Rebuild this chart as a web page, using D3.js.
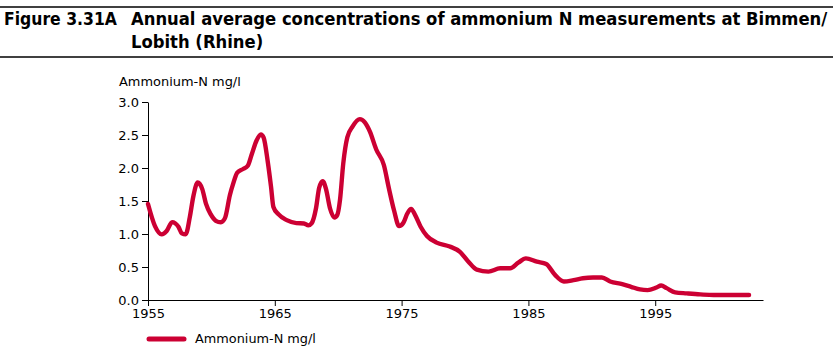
<!DOCTYPE html>
<html><head><meta charset="utf-8">
<script src="https://cdn.jsdelivr.net/npm/d3@7"></script>
<style>
html,body{margin:0;padding:0;background:#fff;}
svg{display:block;}
</style></head>
<body>
<svg id="chart" width="833" height="355"></svg>
<script>
const titleLabel = "Figure 3.31A";
const titleLines = ["Annual average concentrations of ammonium N measurements at Bimmen/", "Lobith (Rhine)"];
const yAxisTitle = "Ammonium-N mg/l";
const seriesName = "Ammonium-N mg/l";
const xTicks = [1955, 1965, 1975, 1985, 1995];
const yTicks = [0, 0.5, 1.0, 1.5, 2.0, 2.5, 3.0];
const years = [1955.0,1955.55,1956.08,1956.47,1956.9,1957.4,1957.66,1957.97,1958.3,1958.57,1958.92,1959.28,1959.57,1959.94,1960.35,1960.75,1961.07,1961.46,1961.73,1962.04,1962.5,1962.87,1963.17,1963.57,1963.9,1964.12,1964.44,1964.7,1964.89,1965.28,1965.94,1966.7,1967.3,1967.65,1967.9,1968.25,1968.5,1968.78,1969.04,1969.35,1969.7,1969.93,1970.14,1970.4,1970.72,1971.14,1971.7,1972.1,1972.5,1973.0,1973.6,1974.0,1974.4,1974.8,1975.14,1975.45,1975.75,1976.06,1976.5,1977.0,1977.76,1978.8,1979.6,1980.27,1980.93,1981.85,1982.77,1983.56,1984.2,1984.8,1985.67,1986.4,1987.1,1987.8,1988.55,1989.3,1990.1,1990.8,1991.45,1992.4,1993.1,1993.8,1994.4,1995.1,1995.47,1995.9,1996.57,1997.5,1998.55,1999.6,2000.9,2002.4];
const values = [1.455,1.12,0.995,1.045,1.18,1.11,1.01,0.995,1.26,1.565,1.78,1.68,1.46,1.30,1.20,1.177,1.24,1.59,1.77,1.93,1.985,2.035,2.2,2.42,2.51,2.46,2.10,1.72,1.41,1.30,1.21,1.165,1.16,1.13,1.16,1.39,1.70,1.80,1.68,1.39,1.25,1.29,1.515,2.07,2.465,2.63,2.74,2.69,2.55,2.28,2.045,1.69,1.36,1.12,1.17,1.31,1.38,1.29,1.11,0.97,0.87,0.81,0.73,0.58,0.46,0.43,0.48,0.48,0.565,0.63,0.58,0.545,0.38,0.28,0.30,0.33,0.34,0.34,0.28,0.24,0.20,0.16,0.15,0.19,0.22,0.18,0.115,0.10,0.085,0.075,0.075,0.075];

const data = years.map((y,i)=>({year:y, value:values[i]}));
const color = "#cc0033";
const svg = d3.select("#chart");
const W = 833;

// Title rules
svg.append("line").attr("x1",0).attr("x2",W).attr("y1",7).attr("y2",7).attr("stroke","#000").attr("stroke-width",1.3);
svg.append("line").attr("x1",0).attr("x2",W).attr("y1",57).attr("y2",57).attr("stroke","#000").attr("stroke-width",1.3);

const tfont = "'DejaVu Sans Condensed','DejaVu Sans',sans-serif";
function fitText(t, target){
  const w = t.node().getComputedTextLength();
  const fs = parseFloat(t.attr("font-size"));
  t.attr("font-size", fs*target/w);
}
const t0 = svg.append("text").attr("x",4).attr("y",25).attr("font-family",tfont).attr("font-weight","bold").attr("font-size",16).attr("fill","#000").text(titleLabel);
fitText(t0, 113);
const t1 = svg.append("text").attr("x",131).attr("y",25).attr("font-family",tfont).attr("font-weight","bold").attr("font-size",16).attr("fill","#000").text(titleLines[0]);
fitText(t1, 697);
const fsT = t1.attr("font-size");
svg.append("text").attr("x",131).attr("y",48).attr("font-family",tfont).attr("font-weight","bold").attr("font-size",fsT).attr("fill","#000").text(titleLines[1]);

// Chart
const afont = "'DejaVu Sans',Verdana,sans-serif";
const x = d3.scaleLinear().domain([1955, 2003.5]).range([148, 763]);
const y = d3.scaleLinear().domain([0, 3]).range([300, 102]);

const xAxis = svg.append("g").attr("transform","translate(0,300)")
  .call(d3.axisBottom(x).tickValues(xTicks).tickFormat(d3.format("d")).tickSize(6).tickSizeOuter(0));
const yAxis = svg.append("g").attr("transform","translate(148,0)")
  .call(d3.axisLeft(y).tickValues(yTicks).tickFormat(d3.format(".1f")).tickSize(6).tickSizeOuter(0));
[xAxis,yAxis].forEach(g=>{
  g.selectAll("text").attr("font-family",afont).attr("font-size",13).attr("fill","#000");
  g.selectAll("line").attr("stroke","#000");
  g.select(".domain").attr("stroke","#000");
});
xAxis.selectAll("text").attr("dy","0.71em").attr("y",9);
yAxis.selectAll("text").attr("x",-9);

const yt = svg.append("text").attr("x",119).attr("y",86).attr("font-family",afont).attr("font-size",11).attr("fill","#000").text(yAxisTitle);
fitText(yt, 122);

// Line
const line = d3.line().x(d=>x(d.year)).y(d=>y(d.value)).curve(d3.curveMonotoneX);
svg.append("path").datum(data).attr("d",line).attr("fill","none").attr("stroke",color)
  .attr("stroke-width",4.4).attr("stroke-linejoin","round").attr("stroke-linecap","round");

// Legend
svg.append("line").attr("x1",149).attr("x2",184).attr("y1",339).attr("y2",339)
  .attr("stroke",color).attr("stroke-width",5).attr("stroke-linecap","round");
const lt = svg.append("text").attr("x",195).attr("y",339).attr("dy","0.35em").attr("font-family",afont).attr("font-size",11).attr("fill","#000").text(seriesName);
fitText(lt, 121);
</script>
</body></html>
